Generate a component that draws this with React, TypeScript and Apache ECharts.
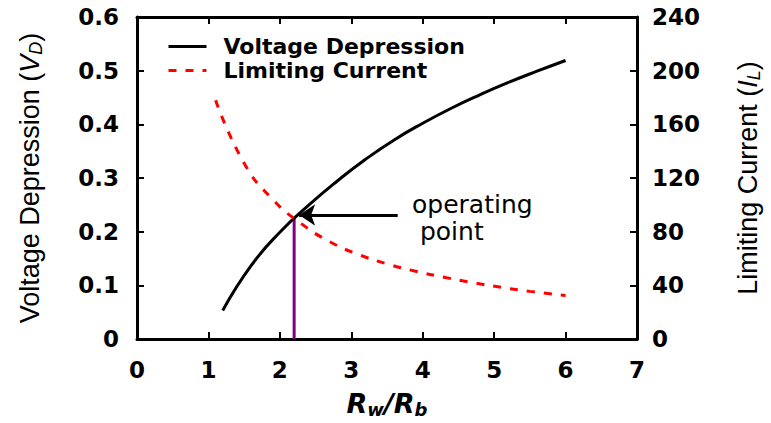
import React, { useEffect, useRef } from "react";
import * as echarts from "echarts";

const voltageX = [1.2, 1.6, 2.0, 2.4, 2.8, 3.2, 3.6, 4.0, 4.4, 4.8, 5.2, 5.6, 6.0];
const voltageY = [0.053, 0.137, 0.199, 0.249, 0.294, 0.335, 0.371, 0.402, 0.43, 0.455, 0.478, 0.499, 0.519];
const currentX = [1.1, 1.5, 1.9, 2.3, 2.7, 3.1, 3.5, 3.9, 4.3, 4.7, 5.1, 5.5, 6.0];
const currentY = [178, 131, 104, 86, 72.5, 63, 56, 50.5, 46, 42, 38.5, 35.5, 32.5];
const operatingX = 2.2;
const operatingV = 0.226;
const arrowTailX = 3.65;
const arrowHeadX = 2.27;
const arrowY = 0.231;

const tickFont = "DejaVu Sans";

export default function App() {
  const ref = useRef<HTMLDivElement>(null);
  useEffect(() => {
    const chart = echarts.init(ref.current!, null, { renderer: "svg" });
    const axisLine = { show: true, onZero: false, lineStyle: { color: "#000", width: 3 } };
    const axisTick = { show: true, inside: true, length: 7, lineStyle: { color: "#000", width: 2 } };
    const labelStyle = { color: "#000", fontFamily: tickFont, fontWeight: "bold" as const, fontSize: 23 };
    chart.setOption({
      animation: false,
      backgroundColor: "#fff",
      grid: { left: 137, right: 129, top: 17, bottom: 81 },
      legend: {
        left: 162,
        top: 30,
        orient: "vertical",
        itemWidth: 38,
        itemHeight: 14,
        itemGap: 1,
        data: ["Voltage Depression", "Limiting Current"],
        itemStyle: { opacity: 0 },
        lineStyle: { width: 3 },
        textStyle: { color: "#000", fontFamily: tickFont, fontWeight: "bold", fontSize: 22, lineHeight: 23, padding: [0, 0, 0, 12] },
      },
      xAxis: [
        {
          type: "value",
          min: 0,
          max: 7,
          interval: 1,
          position: "bottom",
          axisLine,
          axisTick,
          splitLine: { show: false },
          axisLabel: { ...labelStyle, margin: 19 },
          name: "{bi|R}{sub|w}{bi|/R}{sub|b}",
          nameLocation: "middle",
          nameGap: 49,
          nameTextStyle: {
            rich: {
              bi: { fontFamily: tickFont, fontWeight: "bold", fontStyle: "italic", fontSize: 27, color: "#000" },
              sub: { fontFamily: tickFont, fontWeight: "bold", fontStyle: "italic", fontSize: 18, color: "#000", verticalAlign: "bottom", padding: [12, 0, 0, 0] },
            },
          },
        },
        {
          type: "value",
          min: 0,
          max: 7,
          interval: 1,
          position: "top",
          axisLine,
          axisTick,
          splitLine: { show: false },
          axisLabel: { show: false },
        },
      ],
      yAxis: [
        {
          type: "value",
          min: 0,
          max: 0.6,
          interval: 0.1,
          position: "left",
          axisLine,
          axisTick,
          splitLine: { show: false },
          axisLabel: { ...labelStyle, margin: 18 },
          name: "Voltage Depression ({it|V}{sub|D})",
          nameLocation: "middle",
          nameRotate: 90,
          nameGap: 92,
          nameTextStyle: {
            fontFamily: "Liberation Sans",
            fontSize: 27,
            color: "#000",
            rich: {
              it: { fontFamily: "Liberation Sans", fontStyle: "italic", fontSize: 27, color: "#000" },
              sub: { fontFamily: "Liberation Sans", fontStyle: "italic", fontSize: 18, color: "#000", verticalAlign: "bottom", padding: [12, 0, 0, 0] },
            },
          },
        },
        {
          type: "value",
          min: 0,
          max: 240,
          interval: 40,
          position: "right",
          axisLine,
          axisTick,
          splitLine: { show: false },
          axisLabel: { ...labelStyle, margin: 15 },
          name: "Limiting Current ({it|I}{sub|L})",
          nameLocation: "middle",
          nameRotate: 90,
          nameGap: 96,
          nameTextStyle: {
            fontFamily: "Liberation Sans",
            fontSize: 27,
            color: "#000",
            rich: {
              it: { fontFamily: "Liberation Sans", fontStyle: "italic", fontSize: 27, color: "#000" },
              sub: { fontFamily: "Liberation Sans", fontStyle: "italic", fontSize: 18, color: "#000", verticalAlign: "bottom", padding: [12, 0, 0, 0] },
            },
          },
        },
      ],
      series: [
        {
          name: "Voltage Depression",
          type: "line",
          xAxisIndex: 0,
          yAxisIndex: 0,
          data: voltageX.map((x, i) => [x, voltageY[i]]),
          smooth: 0.5,
          symbol: "none",
          lineStyle: { color: "#000", width: 3 },
          itemStyle: { color: "#000" },
          z: 3,
        },
        {
          name: "Limiting Current",
          type: "line",
          xAxisIndex: 0,
          yAxisIndex: 1,
          data: currentX.map((x, i) => [x, currentY[i]]),
          smooth: 0.5,
          symbol: "none",
          lineStyle: { color: "#ff0000", width: 3, type: [8, 9] },
          itemStyle: { color: "#ff0000" },
          z: 4,
        },
        {
          name: "Operating Point",
          type: "line",
          xAxisIndex: 0,
          yAxisIndex: 0,
          data: [
            [operatingX, 0],
            [operatingX, operatingV],
          ],
          symbol: "none",
          lineStyle: { color: "#800080", width: 3 },
          z: 2,
          markLine: {
            silent: true,
            symbol: ["none", "arrow"],
            symbolSize: [16, 16],
            lineStyle: { color: "#000", width: 3, type: "solid" },
            label: { show: false },
            data: [
              [
                { coord: [arrowTailX, arrowY], symbol: "none" },
                { coord: [arrowHeadX, arrowY], symbol: "arrow" },
              ],
            ],
          },
        },
      ],
      graphic: [
        {
          type: "text",
          left: 412,
          top: 191,
          style: {
            text: "operating\n point",
            fontFamily: tickFont,
            fontSize: 25,
            lineHeight: 27,
            fill: "#000",
          },
        },
      ],
    });
    return () => chart.dispose();
  }, []);
  return <div ref={ref} style={{ width: 771, height: 423, position: "absolute", left: 0, top: 0 }} />;
}
